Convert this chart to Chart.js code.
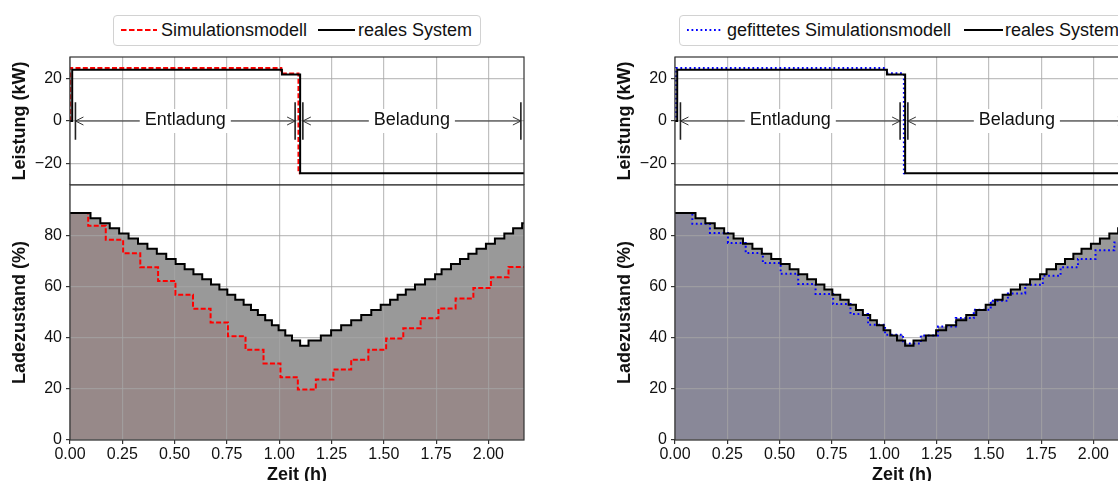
<!DOCTYPE html>
<html><head><meta charset="utf-8">
<script src="https://cdn.jsdelivr.net/npm/chart.js@4.4.1/dist/chart.umd.min.js"></script>
<style>
html,body{margin:0;padding:0;background:#fff;}
#wrap{position:relative;width:1118px;height:481px;overflow:hidden;background:#fff;font-family:'Liberation Sans',Arial,sans-serif;}
canvas{position:absolute;}
.leg{position:absolute;border:1px solid #d2d2d2;border-radius:4px;background:#fff;box-sizing:border-box;}
.lt{position:absolute;font-size:18px;line-height:20px;color:#111;white-space:nowrap;}
svg{position:absolute;overflow:visible;}
</style></head><body>
<div id="wrap">
  <canvas id="c1" width="605" height="135" style="left:0;top:50px"></canvas>
  <canvas id="c2" width="605" height="310" style="left:0;top:180px"></canvas>
  <canvas id="c3" width="605" height="135" style="left:605px;top:50px"></canvas>
  <canvas id="c4" width="605" height="310" style="left:605px;top:180px"></canvas>

  <div class="leg" style="left:113px;top:15px;width:368px;height:31px"></div>
  <svg style="left:120px;top:22px" width="38" height="16"><line x1="1" y1="8" x2="37" y2="8" stroke="#ff0000" stroke-width="1.8" stroke-dasharray="5.5 2.5"/></svg>
  <span class="lt" style="left:161px;top:20px">Simulationsmodell</span>
  <svg style="left:318px;top:22px" width="38" height="16"><line x1="0" y1="8" x2="37" y2="8" stroke="#000" stroke-width="1.8"/></svg>
  <span class="lt" style="left:358px;top:20px">reales System</span>

  <div class="leg" style="left:679px;top:15px;width:450px;height:31px"></div>
  <svg style="left:686px;top:22px" width="36" height="16"><line x1="1" y1="8" x2="35" y2="8" stroke="#0000ff" stroke-width="2" stroke-dasharray="1.8 2.7"/></svg>
  <span class="lt" style="left:727px;top:20px">gefittetes Simulationsmodell</span>
  <svg style="left:964px;top:22px" width="40" height="16"><line x1="0" y1="8" x2="39" y2="8" stroke="#000" stroke-width="1.8"/></svg>
  <span class="lt" style="left:1005px;top:20px">reales System</span>
</div>
<script>
// ---------- data ----------
const xMax = 2.17;
const xTicks = [0, 0.25, 0.5, 0.75, 1.0, 1.25, 1.5, 1.75, 2.0];
const powerTicks = [-20, 0, 20];
const socTicks = [0, 20, 40, 60, 80];

// power (kW)
const powerRealT = [0, 0.0105, 1.013, 1.10, 2.17];
const powerRealV = [0, 24.0, 21.8, -24.5, -24.5];
const powerSimT = [0, 0.001, 1.01, 1.092, 1.10];
const powerSimV = [0, 24.8, 22.3, -24.5, -24.5];
const powerFitT = [0, 0.005, 1.01, 1.094, 1.10];
const powerFitV = [0, 24.9, 22.4, -24.5, -24.5];

// state of charge (%)
const socRealT = [0, 0.098, 0.145, 0.19, 0.235, 0.28, 0.325, 0.37, 0.415, 0.46, 0.505, 0.548, 0.59, 0.632, 0.674, 0.714, 0.752, 0.79, 0.83, 0.865, 0.898, 0.933, 0.965, 0.997, 1.029, 1.061, 1.10, 1.14, 1.199, 1.248, 1.296, 1.344, 1.392, 1.44, 1.485, 1.53, 1.566, 1.605, 1.649, 1.697, 1.745, 1.776, 1.821, 1.864, 1.904, 1.943, 1.988, 2.031, 2.076, 2.118, 2.161, 2.17];
const socRealV = [89, 87, 85, 83, 81, 79, 77, 75, 73, 71, 69, 67, 65, 63, 61, 59, 57, 55, 53, 51, 49, 47, 45, 43, 41, 39, 37, 39, 41, 43, 45, 47, 49, 51, 53, 55, 57, 59, 61, 63, 65, 67, 69, 71, 73, 75, 77, 79, 81, 83, 85, 85];
const socSimT = [0, 0.087, 0.171, 0.254, 0.336, 0.421, 0.504, 0.588, 0.672, 0.755, 0.839, 0.925, 1.006, 1.089, 1.175, 1.259, 1.344, 1.426, 1.511, 1.593, 1.676, 1.761, 1.843, 1.928, 2.012, 2.096, 2.17];
const socSimV = [89, 84, 78.5, 73.2, 67.7, 62.4, 57, 51.5, 46.1, 40.7, 35.4, 30, 24.6, 19.8, 23.7, 27.6, 31.5, 35.4, 39.8, 43.8, 47.7, 51.6, 55.5, 59.6, 63.8, 67.8, 67.8];
const socFitT = [0, 0.083, 0.167, 0.253, 0.338, 0.42, 0.505, 0.589, 0.672, 0.756, 0.839, 0.923, 1.004, 1.09, 1.175, 1.257, 1.342, 1.428, 1.509, 1.591, 1.674, 1.758, 1.843, 1.926, 2.01, 2.10, 2.17];
const socFitV = [89, 84.8, 81.2, 77.3, 73.3, 69.4, 65.2, 61.2, 57.3, 53.3, 49.4, 45.2, 41.3, 37.8, 41.0, 44.5, 47.8, 51.1, 54.6, 57.5, 60.9, 64.4, 67.7, 71.0, 74.4, 77.5, 77.5];

// phase annotations
const phaseNames = ['Entladung', 'Beladung'];
const phaseStart = [0.026, 1.113];
const phaseEnd = [1.076, 2.155];

// ---------- styling / helpers ----------
const FONT = "'Liberation Sans', Arial, sans-serif";
Chart.defaults.font.family = FONT;
Chart.defaults.color = '#111';
const GRID = 'rgba(165,165,165,0.7)';
const SPINE = '#333';

function pts(t, v) { return t.map((x, i) => ({x: x, y: v[i]})); }

const framePlugin = { id: 'frame', afterDraw(chart) {
  const a = chart.chartArea, c = chart.ctx;
  c.save(); c.strokeStyle = SPINE; c.lineWidth = 1.2;
  c.strokeRect(a.left, a.top, a.right - a.left, a.bottom - a.top);
  c.restore();
}};

const phasePlugin = { id: 'phases', afterDatasetsDraw(chart) {
  const c = chart.ctx, xs = chart.scales.x, ys = chart.scales.y;
  const y0 = ys.getPixelForValue(0), yT = ys.getPixelForValue(8.8), yB = ys.getPixelForValue(-8.8);
  c.save();
  c.font = '18px ' + FONT;
  phaseNames.forEach((name, i) => {
    const x1 = xs.getPixelForValue(phaseStart[i]), x2 = xs.getPixelForValue(phaseEnd[i]);
    c.strokeStyle = '#333'; c.lineWidth = 1;
    c.beginPath(); c.moveTo(x1, y0); c.lineTo(x2, y0); c.stroke();
    c.beginPath();
    c.moveTo(x1 + 8, y0 - 4); c.lineTo(x1, y0); c.lineTo(x1 + 8, y0 + 4);
    c.moveTo(x2 - 8, y0 - 4); c.lineTo(x2, y0); c.lineTo(x2 - 8, y0 + 4);
    c.stroke();
    c.strokeStyle = '#222'; c.lineWidth = 1.6;
    c.beginPath(); c.moveTo(x1, yT); c.lineTo(x1, yB); c.moveTo(x2, yT); c.lineTo(x2, yB); c.stroke();
    const xm = (x1 + x2) / 2, w = c.measureText(name).width;
    c.fillStyle = '#fff'; c.fillRect(xm - w / 2 - 5, y0 - 12, w + 10, 24);
    c.fillStyle = '#111'; c.textAlign = 'center'; c.textBaseline = 'alphabetic';
    c.fillText(name, xm, y0 + 4);
  });
  c.restore();
}};

function xScale(bottom) {
  return {
    type: 'linear', min: 0, max: xMax,
    afterBuildTicks: s => { s.ticks = xTicks.map(v => ({value: v})); },
    afterFit: s => { s.height = bottom ? 50 : 0; s.paddingLeft = 0; s.paddingRight = 0; },
    grid: { color: GRID, lineWidth: 1.2, drawTicks: bottom, tickLength: 4, tickColor: SPINE, tickWidth: 1.2 },
    border: { display: false },
    ticks: { display: bottom, padding: 1, font: {size: 16}, color: '#111', autoSkip: false, maxRotation: 0,
             callback: v => Number(v).toFixed(2) },
    title: { display: bottom, text: 'Zeit (h)', font: {size: 18, weight: 'bold'}, color: '#111', padding: {top: 0, bottom: 4.5} }
  };
}
function yScale(min, max, ticks, title) {
  return {
    type: 'linear', min: min, max: max,
    afterBuildTicks: s => { s.ticks = ticks.map(v => ({value: v})); },
    afterFit: s => { s.width = 70; s.paddingTop = 0; s.paddingBottom = 0; },
    grid: { color: GRID, lineWidth: 1.2, tickLength: 4, tickColor: SPINE, tickWidth: 1.2 },
    border: { display: false },
    ticks: { padding: 4, font: {size: 16}, color: '#111',
             callback: v => v < 0 ? '\u2212' + Math.abs(v) : String(v) },
    title: { display: true, text: title, font: {size: 18, weight: 'bold'}, color: '#111', padding: {top: 9, bottom: 0} }
  };
}
function lineDs(label, data, color, width, dash, extra) {
  return Object.assign({ label: label, data: data, borderColor: color, borderWidth: width, borderDash: dash,
    stepped: true, pointRadius: 0, fill: false, borderCapStyle: 'butt', borderJoinStyle: 'miter' }, extra || {});
}
function commonOpts(padTop, scales) {
  return {
    responsive: false, animation: false, devicePixelRatio: 1, events: [],
    layout: { padding: { top: padTop, right: 81, left: 0, bottom: 0 } },
    plugins: { legend: { display: false }, tooltip: { enabled: false }, filler: { drawTime: 'beforeDraw' } },
    scales: scales
  };
}

function powerChart(id, simT, simV, simColor, simDash) {
  new Chart(document.getElementById(id), {
    type: 'line',
    data: { datasets: [
      lineDs('reales System', pts(powerRealT, powerRealV), '#000', 2, []),
      lineDs('Sim', pts(simT, simV), simColor, 2, simDash)
    ]},
    options: commonOpts(7, { x: xScale(false), y: yScale(-30, 30, powerTicks, 'Leistung (kW)') }),
    plugins: [phasePlugin, framePlugin]
  });
}
function socChart(id, simT, simV, simColor, simDash, simFill) {
  new Chart(document.getElementById(id), {
    type: 'line',
    data: { datasets: [
      lineDs('reales System', pts(socRealT, socRealV), '#000', 2, []),
      lineDs('Sim', pts(simT, simV), simColor, 2, simDash, { fill: 'origin', backgroundColor: simFill }),
      lineDs('_fill', pts(socRealT, socRealV), 'rgba(0,0,0,0)', 0, [], { fill: 'origin', backgroundColor: 'rgb(153,153,153)' })
    ]},
    options: commonOpts(5, { x: xScale(true), y: yScale(0, 100, socTicks, 'Ladezustand (%)') }),
    plugins: [framePlugin]
  });
}

powerChart('c1', powerSimT, powerSimV, '#ff0000', [5, 2.3]);
socChart('c2', socSimT, socSimV, '#ff0000', [5, 2.3], 'rgb(151,137,137)');
powerChart('c3', powerFitT, powerFitV, '#0000ff', [1.8, 2.7]);
socChart('c4', socFitT, socFitV, '#0000ff', [1.8, 2.7], 'rgb(137,136,152)');
</script>
</body></html>
